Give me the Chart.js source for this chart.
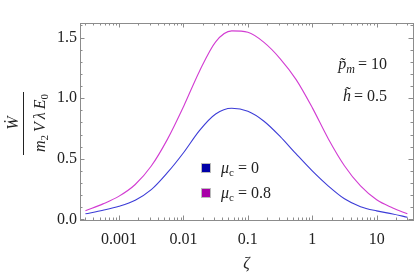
<!doctype html>
<html>
  <head>
    <meta charset="UTF-8">
    <title>W dot</title>
    <style>
      body { margin: 0; background: #fff; }
      #box { width: 415px; height: 272px; }
    </style>
  </head>
  <body>
    <div id="box"><canvas id="myChart"></canvas></div>

    <script src="https://cdn.jsdelivr.net/npm/chart.js@4.4.1/dist/chart.umd.min.js"></script>
    <script>
      // values
      var zeta = [3.0e-4, 5.62e-4, 1e-3, 1.78e-3, 3.16e-3, 5.62e-3, 0.01, 0.0178, 0.0316, 0.0562, 0.1,
                  0.178, 0.316, 0.562, 1, 1.78, 3.16, 5.62, 10, 17.8, 30];
      var w_mu0 = [0.046, 0.075, 0.108, 0.158, 0.245, 0.385, 0.55, 0.735, 0.87, 0.917, 0.892,
                   0.81, 0.685, 0.54, 0.40, 0.275, 0.17, 0.105, 0.07, 0.045, 0.018];
      var w_mu08 = [0.071, 0.128, 0.192, 0.288, 0.44, 0.66, 0.93, 1.225, 1.465, 1.555, 1.543,
                    1.46, 1.327, 1.153, 0.922, 0.664, 0.443, 0.276, 0.162, 0.095, 0.046];
      var mu_labels = ['0', '0.8'];
      var x_ticks = [0.001, 0.01, 0.1, 1, 10];
      var x_tick_labels = ['0.001', '0.01', '0.1', '1', '10'];
      var y_ticks = [0, 0.5, 1.0, 1.5];
      var y_tick_labels = ['0.0', '0.5', '1.0', '1.5'];

      var serif = '"Liberation Serif", "DejaVu Serif", serif';
      var frameColor = '#8c8c8c';

      // draws pieces of text one after another (for subscripts etc.)
      function runs(ctx, x, y, parts, align){
        var total = 0;
        parts.forEach(function(p){ ctx.font = p.f; total += ctx.measureText(p.t).width + (p.sp || 0); });
        var cx = x;
        if(align == 'right') cx = x - total;
        if(align == 'center') cx = x - total / 2;
        parts.forEach(function(p){
          ctx.font = p.f;
          ctx.fillText(p.t, cx, y + (p.dy || 0));
          cx += ctx.measureText(p.t).width + (p.sp || 0);
        });
      }

      var framePlugin = {
        id: 'frame',
        afterDraw: function(chart){
          var ctx = chart.ctx;
          var a = chart.chartArea;
          var xs = chart.scales.x, ys = chart.scales.y;
          ctx.save();
          ctx.strokeStyle = frameColor;
          ctx.lineWidth = 1;
          ctx.strokeRect(Math.round(a.left) + 0.5, Math.round(a.top) + 0.5,
                         Math.round(a.right - a.left), Math.round(a.bottom - a.top));

          function vtick(v, len){
            var px = Math.round(xs.getPixelForValue(v)) + 0.5;
            ctx.beginPath();
            ctx.moveTo(px, a.bottom); ctx.lineTo(px, a.bottom - len);
            ctx.moveTo(px, a.top); ctx.lineTo(px, a.top + len);
            ctx.stroke();
          }
          function htick(v, len){
            var py = Math.round(ys.getPixelForValue(v)) + 0.5;
            ctx.beginPath();
            ctx.moveTo(a.left, py); ctx.lineTo(a.left + len, py);
            ctx.moveTo(a.right, py); ctx.lineTo(a.right - len, py);
            ctx.stroke();
          }
          // log ticks
          for(var k = -4; k <= 1; k++){
            for(var m = 1; m <= 9; m++){
              var v = m * Math.pow(10, k);
              if(v < xs.min || v > xs.max) continue;
              vtick(v, m == 1 ? 4.5 : 2.5);
            }
          }
          for(var i = 0; i <= 16; i++){
            htick(i / 10, i % 5 == 0 ? 4.5 : 2.5);
          }

          ctx.fillStyle = '#222';
          ctx.font = '16px ' + serif;
          ctx.textAlign = 'center';
          ctx.textBaseline = 'middle';
          x_ticks.forEach(function(v, i){
            ctx.fillText(x_tick_labels[i], xs.getPixelForValue(v), a.bottom + 20);
          });
          ctx.textAlign = 'right';
          y_ticks.forEach(function(v, i){
            ctx.fillText(y_tick_labels[i], a.left - 3, ys.getPixelForValue(v));
          });

          // axis titles
          ctx.textAlign = 'left';
          ctx.textBaseline = 'alphabetic';
          var it = 'italic 16px ' + serif;
          var itS = 'italic 12px ' + serif;
          var rm = '16px ' + serif;
          var rmS = '11px ' + serif;
          runs(ctx, (a.left + a.right) / 2, 268, [{t: 'ζ', f: it}], 'center');

          ctx.save();
          ctx.rotate(-Math.PI / 2);
          // numerator
          runs(ctx, -123, 18, [{t: 'Ẇ', f: it}], 'center');
          // fraction bar
          ctx.beginPath();
          ctx.strokeStyle = '#222';
          ctx.moveTo(-155, 23.5); ctx.lineTo(-92, 23.5);
          ctx.stroke();
          // denominator
          runs(ctx, -123, 45, [
            {t: 'm', f: it}, {t: '2', f: rmS, dy: 3, sp: 3},
            {t: 'V', f: it, sp: 3}, {t: 'λ', f: it, sp: 3},
            {t: 'E', f: it}, {t: '0', f: rmS, dy: 3}
          ], 'center');
          ctx.restore();

          // parameters
          runs(ctx, 387, 69, [
            {t: 'p\u0303', f: it}, {t: 'm', f: itS, dy: 4, sp: 3},
            {t: '= 10', f: rm}
          ], 'right');
          runs(ctx, 387, 101, [
            {t: 'h\u0303', f: it, sp: 3}, {t: '= 0.5', f: rm}
          ], 'right');

          // legend
          var items = [
            {c: '#0000a8', label: mu_labels[0], y: 168},
            {c: '#a800a8', label: mu_labels[1], y: 193}
          ];
          items.forEach(function(it2){
            ctx.fillStyle = it2.c;
            ctx.fillRect(201, it2.y - 5, 10, 10);
            ctx.strokeStyle = '#bbb';
            ctx.strokeRect(201.5, it2.y - 4.5, 9, 9);
            ctx.fillStyle = '#222';
            runs(ctx, 221, it2.y + 5, [
              {t: 'μ', f: it}, {t: 'c', f: rmS, dy: 3, sp: 4},
              {t: '= ' + it2.label, f: rm}
            ], 'left');
          });
          ctx.restore();
        }
      };

      var ctx = document.getElementById('myChart');
      var myChart = new Chart(ctx, {
        type: 'line',
        data: {
          datasets: [{
            label: 'mu_c = 0',
            data: zeta.map(function(z, i){ return {x: z, y: w_mu0[i]}; }),
            borderColor: 'rgb(60,60,215)',
            borderWidth: 1.1,
            pointRadius: 0,
            cubicInterpolationMode: 'monotone',
            fill: false
          }, {
            label: 'mu_c = 0.8',
            data: zeta.map(function(z, i){ return {x: z, y: w_mu08[i]}; }),
            borderColor: 'rgb(210,60,210)',
            borderWidth: 1.1,
            pointRadius: 0,
            cubicInterpolationMode: 'monotone',
            fill: false
          }]
        },
        options: {
          responsive: true,
          maintainAspectRatio: false,
          animation: false,
          layout: { padding: { left: 80, right: 2, top: 23, bottom: 52 } },
          plugins: { legend: { display: false }, tooltip: { enabled: false } },
          scales: {
            x: { type: 'logarithmic', min: 2.47e-4, max: 36.7, display: false },
            y: { type: 'linear', min: -0.005, max: 1.62, display: false }
          }
        },
        plugins: [framePlugin]
      });
    </script>
  </body>
</html>
